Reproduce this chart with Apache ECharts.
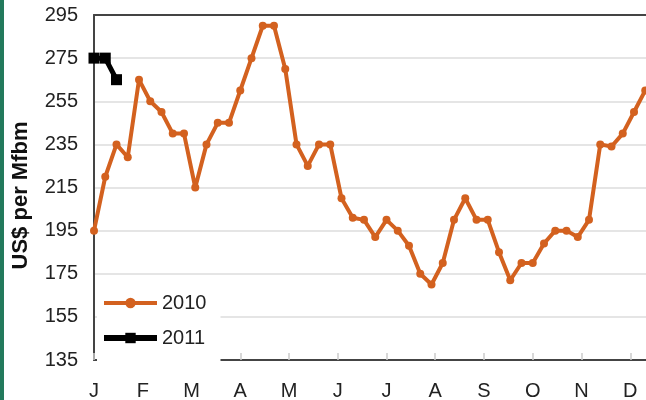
<!DOCTYPE html>
<html>
<head>
<meta charset="utf-8">
<script src="https://cdn.jsdelivr.net/npm/echarts@6/dist/echarts.min.js"></script>
<style>
html,body{margin:0;padding:0;background:#fff;}
#c{width:646px;height:400px;}
</style>
</head>
<body>
<div id="c"></div>
<script>
// Weekly prices, US$ per Mfbm
const months = ['J','F','M','A','M','J','J','A','S','O','N','D'];
const yTicks = [135,155,175,195,215,235,255,275,295];
const values2010 = [195,220,235,229,265,255,250,240,240,215,235,245,245,260,275,290,290,270,235,225,235,235,210,201,200,192,200,195,188,175,170,180,200,210,200,200,185,172,180,180,189,195,195,192,200,235,234,240,250,260];
const values2011 = [275,275,265];

const weeksPerMonth = 52/12;
const s2010 = values2010.map((v,i)=>[i,v]);
const s2011 = values2011.map((v,i)=>[i,v]);
const FONT = 'Liberation Sans';

const chart = echarts.init(document.getElementById('c'));
chart.setOption({
  animation:false,
  backgroundColor:'#fff',
  textStyle:{fontFamily:FONT},
  graphic:[{type:'rect',left:0,top:0,shape:{width:4,height:400},style:{fill:'#237a5c'},z:10}],
  grid:{left:94, top:15, width:585, height:345, containLabel:false, outerBoundsMode:'none'},
  legend:{
    orient:'vertical', left:97, top:285, backgroundColor:'#fff',
    padding:[8,14,14,4], itemGap:15, itemWidth:53, itemHeight:13,
    textStyle:{fontSize:20,color:'#222',fontFamily:FONT},
    data:[
      {name:'2010', lineStyle:{width:4}},
      {name:'2011', lineStyle:{width:6}}
    ]
  },
  xAxis:[{
    type:'value', min:0, max:52, interval:weeksPerMonth,
    axisLine:{show:true,lineStyle:{color:'#444',width:2}},
    axisTick:{show:true,inside:true,length:7,lineStyle:{color:'#ccc',width:1.5}},
    splitLine:{show:false},
    axisLabel:{fontSize:20,color:'#222',margin:21,fontFamily:FONT,
      formatter:function(v){const k=Math.round(v/weeksPerMonth);return months[k]||'';}}
  },{
    type:'value', position:'top', min:0, max:52,
    axisLine:{show:true,lineStyle:{color:'#444',width:2}},
    axisTick:{show:false}, axisLabel:{show:false}, splitLine:{show:false}
  }],
  yAxis:{
    type:'value', min:yTicks[0], max:yTicks[yTicks.length-1], interval:20,
    name:'US$ per Mfbm', nameLocation:'middle', nameGap:62,
    nameTextStyle:{fontSize:22,fontWeight:'bold',color:'#111',fontFamily:FONT,padding:[0,16,0,0]},
    axisLine:{show:true,lineStyle:{color:'#444',width:2}},
    axisTick:{show:false},
    splitLine:{show:true,lineStyle:{color:'#dcdcdc',width:1.5}},
    axisLabel:{fontSize:20,color:'#222',margin:16,fontFamily:FONT}
  },
  series:[
    {name:'2010', type:'line', data:s2010, clip:false, symbol:'circle', symbolSize:8,
     itemStyle:{color:'#d3611f'}, lineStyle:{color:'#d3611f',width:4}, z:3},
    {name:'2011', type:'line', data:s2011, clip:false, symbol:'rect', symbolSize:11,
     itemStyle:{color:'#000'}, lineStyle:{color:'#000',width:5}, z:4}
  ]
});
</script>
</body>
</html>
